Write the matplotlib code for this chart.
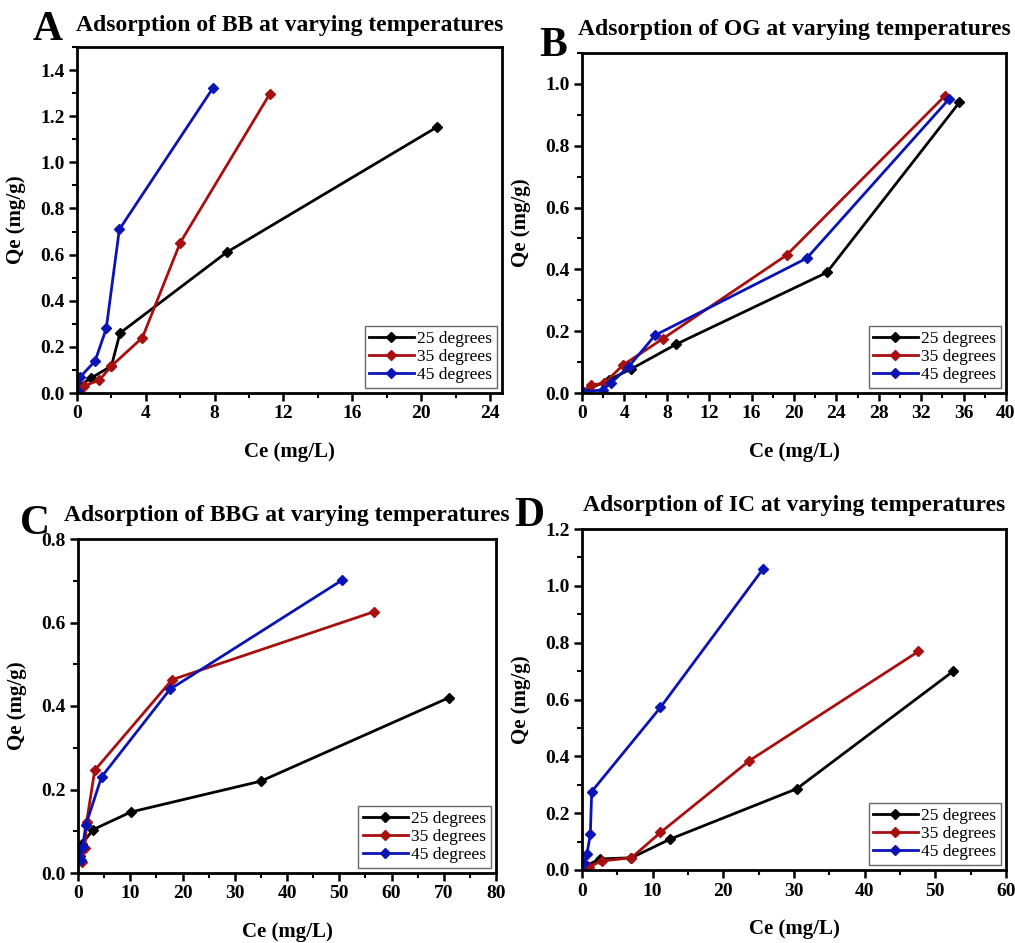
import matplotlib
matplotlib.use("Agg")
import matplotlib.pyplot as plt
from matplotlib.ticker import MultipleLocator

plt.rcParams['font.family'] = ['Liberation Serif', 'DejaVu Serif']
plt.rcParams['font.weight'] = 'bold'

W, H = 1015, 943

# Panel A: BB
bb_ce_25 = [0.1, 0.8, 2.0, 2.5, 8.7, 20.9]
bb_qe_25 = [0.03, 0.064, 0.117, 0.26, 0.61, 1.152]
bb_ce_35 = [0.1, 0.4, 1.3, 2.0, 3.8, 6.0, 11.2]
bb_qe_35 = [0.01, 0.03, 0.056, 0.117, 0.24, 0.652, 1.296]
bb_ce_45 = [0.05, 0.2, 1.06, 1.7, 2.46, 7.9]
bb_qe_45 = [0.01, 0.07, 0.14, 0.28, 0.709, 1.322]

# Panel B: OG
og_ce_25 = [0.05, 2.5, 4.6, 8.9, 23.1, 35.6]
og_qe_25 = [0.004, 0.042, 0.077, 0.158, 0.39, 0.94]
og_ce_35 = [0.05, 0.85, 2.1, 3.85, 7.6, 19.3, 34.2]
og_qe_35 = [0.004, 0.026, 0.031, 0.09, 0.175, 0.446, 0.96]
og_ce_45 = [0.05, 1.95, 2.75, 4.4, 6.9, 21.2, 34.6]
og_qe_45 = [0.004, 0.01, 0.033, 0.085, 0.187, 0.436, 0.95]

# Panel C: BBG
bbg_ce_25 = [0.3, 0.8, 2.9, 10.1, 35.0, 71.0]
bbg_qe_25 = [0.04, 0.07, 0.104, 0.146, 0.22, 0.42]
bbg_ce_35 = [0.7, 1.3, 1.65, 3.2, 18.0, 56.7]
bbg_qe_35 = [0.027, 0.059, 0.122, 0.246, 0.463, 0.626]
bbg_ce_45 = [0.5, 0.9, 1.5, 4.5, 17.6, 50.6]
bbg_qe_45 = [0.031, 0.063, 0.115, 0.23, 0.44, 0.702]

# Panel D: IC
ic_ce_25 = [0.3, 2.6, 7.0, 12.5, 30.4, 52.5]
ic_qe_25 = [0.012, 0.039, 0.043, 0.109, 0.286, 0.699]
ic_ce_35 = [1.0, 2.9, 7.0, 11.1, 23.7, 47.6]
ic_qe_35 = [0.012, 0.032, 0.043, 0.132, 0.385, 0.769]
ic_ce_45 = [0.3, 0.7, 1.18, 1.37, 11.1, 25.6]
ic_qe_45 = [0.025, 0.055, 0.127, 0.276, 0.572, 1.059]

labels = ['25 degrees', '35 degrees', '45 degrees']
colors = ['black', '#A80F0F', '#0A14B4']

panels = [
    dict(letter='A', title='Adsorption of BB at varying temperatures',
         box=(77, 47, 502, 393), xlim=(0, 24.7), ylim=(0, 1.5),
         xmaj=4, xmin=2, ymaj=0.2, ymin=0.1,
         series=[(bb_ce_25, bb_qe_25), (bb_ce_35, bb_qe_35), (bb_ce_45, bb_qe_45)],
         letter_xy=(48, 30), title_y=25),
    dict(letter='B', title='Adsorption of OG at varying temperatures',
         box=(582, 53, 1006, 393), xlim=(0, 40), ylim=(0, 1.1),
         xmaj=4, xmin=2, ymaj=0.2, ymin=0.1,
         series=[(og_ce_25, og_qe_25), (og_ce_35, og_qe_35), (og_ce_45, og_qe_45)],
         letter_xy=(553, 46), title_y=30),
    dict(letter='C', title='Adsorption of BBG at varying temperatures',
         box=(78, 539, 496, 873), xlim=(0, 80), ylim=(0, 0.8),
         xmaj=10, xmin=5, ymaj=0.2, ymin=0.1,
         series=[(bbg_ce_25, bbg_qe_25), (bbg_ce_35, bbg_qe_35), (bbg_ce_45, bbg_qe_45)],
         letter_xy=(35, 524), title_y=516),
    dict(letter='D', title='Adsorption of IC at varying temperatures',
         box=(582, 529, 1006, 870), xlim=(0, 60), ylim=(0, 1.2),
         xmaj=10, xmin=5, ymaj=0.2, ymin=0.1,
         series=[(ic_ce_25, ic_qe_25), (ic_ce_35, ic_qe_35), (ic_ce_45, ic_qe_45)],
         letter_xy=(529, 516), title_y=506),
]

fig = plt.figure(figsize=(W / 100, H / 100), dpi=100)

for p in panels:
    l, t, r, b = p['box']
    ax = fig.add_axes([l / W, 1 - b / H, (r - l) / W, (b - t) / H])
    for (x, y), lab, c in zip(p['series'], labels, colors):
        ax.plot(x, y, color=c, lw=2.0, marker='D', ms=5, label=lab)
    ax.set_xlim(*p['xlim'])
    ax.set_ylim(*p['ylim'])
    ax.xaxis.set_major_locator(MultipleLocator(p['xmaj']))
    ax.xaxis.set_minor_locator(MultipleLocator(p['xmin']))
    ax.yaxis.set_major_locator(MultipleLocator(p['ymaj']))
    ax.yaxis.set_minor_locator(MultipleLocator(p['ymin']))
    ax.yaxis.set_major_formatter(matplotlib.ticker.FormatStrFormatter('%.1f'))
    ax.tick_params(which='major', direction='out', length=6, width=1.8,
                   labelsize=14, pad=3)
    ax.tick_params(which='minor', direction='out', length=3.5, width=1.5)
    for s in ax.spines.values():
        s.set_linewidth(2.0)
    for lbl in ax.get_xticklabels() + ax.get_yticklabels():
        lbl.set_fontweight('bold')
    ax.set_xlabel('Ce (mg/L)', fontsize=15, fontweight='bold', labelpad=14)
    ax.set_ylabel('Qe (mg/g)', fontsize=15, fontweight='bold', labelpad=10)
    leg = ax.legend(loc='lower right', fontsize=12.5, frameon=True, fancybox=False,
                    borderpad=0.25, handlelength=2.6, handletextpad=0.2,
                    labelspacing=0.12, borderaxespad=0.3)
    leg.get_frame().set_edgecolor('#444444')
    leg.get_frame().set_linewidth(1.0)
    for txt in leg.get_texts():
        txt.set_fontweight('normal')
    fig.text((l + r) / 2 / W, 1 - p['title_y'] / H, p['title'], ha='center',
             va='center', fontsize=17, fontweight='bold')
    fig.text(p['letter_xy'][0] / W, 1 - p['letter_xy'][1] / H, p['letter'],
             ha='center', va='center', fontsize=30, fontweight='bold')

fig.savefig('out.png', dpi=100)
